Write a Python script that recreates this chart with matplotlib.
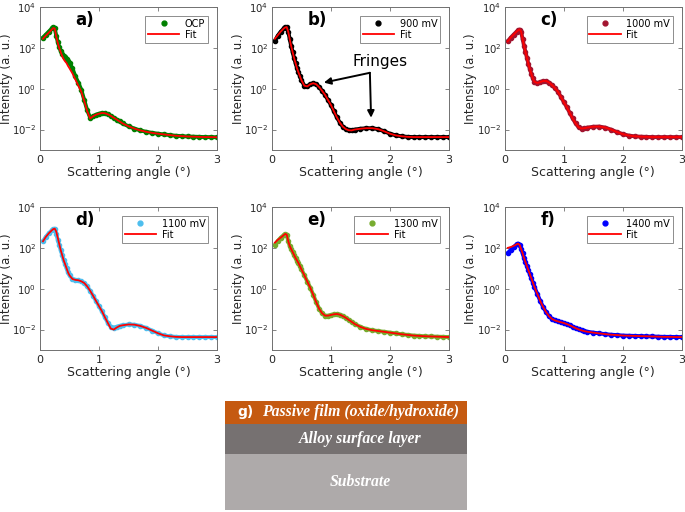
#-----------------------------------------------------------------------
# XRR curves at several potentials (a-f) + layer sketch (g)
#-----------------------------------------------------------------------
import matplotlib
matplotlib.use('Agg')
import matplotlib.pyplot as plt
from matplotlib.lines import Line2D
import numpy as np

# scattering angle (deg), shared by every curve
angle = [0.05, 0.1, 0.15, 0.2, 0.225, 0.25, 0.275, 0.3, 0.325, 0.35,
         0.375, 0.4, 0.425, 0.45, 0.475, 0.5, 0.55, 0.6, 0.65, 0.7,
         0.75, 0.8, 0.85, 0.9, 0.95, 1.0, 1.05, 1.1, 1.15, 1.2,
         1.25, 1.3, 1.35, 1.4, 1.5, 1.6, 1.7, 1.8, 1.9, 2.0,
         2.1, 2.2, 2.3, 2.4, 2.5, 2.6, 2.7, 2.8, 2.9, 3.0]

# measured intensities (a. u.)
ocp_data = [3.2e2, 4.5e2, 6.3e2, 8.9e2, 1.05e3, 8.9e2, 4.0e2, 2.0e2, 1.1e2, 71,
            50, 40, 35, 28, 22, 18, 10, 4.0, 2.0, 0.89,
            0.28, 0.089, 0.038, 0.045, 0.054, 0.060, 0.065, 0.063, 0.056, 0.047,
            0.038, 0.031, 0.025, 0.020, 0.0145, 0.0112, 0.0091, 0.0078, 0.0069, 0.0063,
            0.0058, 0.0054, 0.0050, 0.0048, 0.0046, 0.0045, 0.0044, 0.0043, 0.0043, 0.0042]
ocp_fit = [2.8e2, 4.0e2, 5.6e2, 7.9e2, 9.3e2, 8.9e2, 3.5e2, 1.8e2, 1.0e2, 63,
           40, 28, 22, 18, 13, 10, 5.6, 2.8, 1.4, 0.71,
           0.25, 0.079, 0.035, 0.045, 0.054, 0.060, 0.065, 0.063, 0.056, 0.047,
           0.038, 0.031, 0.025, 0.020, 0.0145, 0.0112, 0.0091, 0.0078, 0.0069, 0.0063,
           0.0058, 0.0054, 0.0050, 0.0048, 0.0046, 0.0045, 0.0044, 0.0043, 0.0043, 0.0042]

mv900_data = [2.2e2, 4.0e2, 6.3e2, 8.9e2, 1.0e3, 1.05e3, 6.3e2, 2.8e2, 1.26e2, 63,
              32, 18, 10, 6.3, 4.0, 2.6, 1.4, 1.3, 1.66, 1.86,
              1.66, 1.2, 0.79, 0.50, 0.28, 0.16, 0.079, 0.040, 0.022, 0.014,
              0.0107, 0.0093, 0.0091, 0.0100, 0.011, 0.0117, 0.0117, 0.0105, 0.0083, 0.0063,
              0.0052, 0.0047, 0.0044, 0.0043, 0.0043, 0.0043, 0.0043, 0.0043, 0.0043, 0.0043]
mv900_fit = [2.8e2, 4.2e2, 6.3e2, 8.9e2, 1.0e3, 1.05e3, 6.3e2, 2.8e2, 1.26e2, 63,
             32, 18, 10, 6.3, 4.0, 2.6, 1.4, 1.3, 1.66, 1.86,
             1.66, 1.2, 0.79, 0.50, 0.28, 0.16, 0.079, 0.040, 0.022, 0.014,
             0.0107, 0.0093, 0.0091, 0.0100, 0.011, 0.0117, 0.0117, 0.0105, 0.0083, 0.0063,
             0.0052, 0.0047, 0.0044, 0.0043, 0.0043, 0.0043, 0.0043, 0.0043, 0.0043, 0.0043]

mv1000_data = [2.1e2, 3.2e2, 4.5e2, 6.3e2, 7.1e2, 7.9e2, 6.3e2, 2.8e2, 1.26e2, 63,
               32, 16, 8.9, 5.2, 3.2, 2.2, 1.9, 2.1, 2.4, 2.4,
               2.0, 1.5, 1.07, 0.71, 0.40, 0.22, 0.126, 0.066, 0.035, 0.020,
               0.013, 0.0112, 0.0117, 0.0126, 0.0138, 0.0141, 0.0126, 0.0100, 0.0076, 0.0060,
               0.0051, 0.0047, 0.0045, 0.0044, 0.0043, 0.0043, 0.0043, 0.0043, 0.0043, 0.0043]
mv1000_fit = list(mv1000_data)

mv1100_data = [2.1e2, 3.5e2, 5.2e2, 7.2e2, 8.3e2, 8.7e2, 5.0e2, 2.5e2, 1.4e2, 79,
               45, 25, 16, 10, 6.3, 4.5, 3.0, 2.7, 2.6, 2.3,
               1.9, 1.3, 0.79, 0.45, 0.25, 0.14, 0.079, 0.040, 0.021, 0.014,
               0.0126, 0.0138, 0.0151, 0.0162, 0.0178, 0.0174, 0.0151, 0.0120, 0.0089, 0.0066,
               0.0052, 0.0047, 0.0044, 0.0043, 0.0043, 0.0043, 0.0043, 0.0043, 0.0043, 0.0043]
mv1100_fit = [2.1e2, 3.5e2, 5.2e2, 7.2e2, 8.3e2, 8.7e2, 6.3e2, 3.2e2, 1.6e2, 79,
              45, 25, 16, 10, 6.3, 4.5, 3.0, 2.7, 2.6, 2.3,
              1.9, 1.3, 0.79, 0.45, 0.25, 0.14, 0.079, 0.040, 0.021, 0.0112,
              0.0100, 0.0126, 0.0151, 0.0162, 0.0178, 0.0174, 0.0151, 0.0120, 0.0089, 0.0066,
              0.0052, 0.0047, 0.0044, 0.0043, 0.0043, 0.0043, 0.0043, 0.0043, 0.0043, 0.0043]

mv1300_data = [1.4e2, 2.2e2, 3.2e2, 4.2e2, 4.8e2, 4.5e2, 2.2e2, 1.26e2, 89, 63,
               45, 32, 24, 18, 12.6, 8.9, 4.5, 2.2, 1.12, 0.50,
               0.22, 0.105, 0.063, 0.048, 0.048, 0.052, 0.056, 0.058, 0.054, 0.046,
               0.038, 0.030, 0.024, 0.019, 0.0135, 0.0107, 0.0093, 0.0085, 0.0078, 0.0071,
               0.0065, 0.0059, 0.0055, 0.0051, 0.0049, 0.0047, 0.0046, 0.0045, 0.0044, 0.0043]
mv1300_fit = [1.8e2, 2.5e2, 3.2e2, 4.2e2, 4.8e2, 4.5e2, 2.2e2, 1.26e2, 89, 63,
              45, 32, 24, 18, 12.6, 8.9, 4.5, 2.2, 1.12, 0.50,
              0.22, 0.105, 0.063, 0.048, 0.048, 0.052, 0.056, 0.058, 0.054, 0.046,
              0.038, 0.030, 0.024, 0.019, 0.0135, 0.0107, 0.0093, 0.0085, 0.0078, 0.0071,
              0.0065, 0.0059, 0.0055, 0.0051, 0.0049, 0.0047, 0.0046, 0.0045, 0.0044, 0.0043]

mv1400_data = [56, 79, 1.1e2, 1.5e2, 1.6e2, 1.4e2, 89, 56, 32, 20,
               12.6, 7.9, 5.0, 3.2, 2.0, 1.26, 0.56, 0.25, 0.126, 0.071,
               0.045, 0.033, 0.028, 0.025, 0.023, 0.021, 0.0186, 0.0162, 0.0138, 0.0117,
               0.0102, 0.0091, 0.0083, 0.0078, 0.0071, 0.0065, 0.0060, 0.0056, 0.0054, 0.0051,
               0.0050, 0.0049, 0.0048, 0.0047, 0.0046, 0.0045, 0.0044, 0.0044, 0.0043, 0.0043]
mv1400_fit = [1.0e2, 1.1e2, 1.26e2, 1.5e2, 1.6e2, 1.4e2, 89, 56, 32, 20,
              12.6, 7.9, 5.0, 3.2, 2.0, 1.26, 0.56, 0.25, 0.126, 0.071,
              0.045, 0.033, 0.028, 0.025, 0.023, 0.021, 0.0186, 0.0162, 0.0138, 0.0117,
              0.0102, 0.0091, 0.0083, 0.0078, 0.0071, 0.0065, 0.0060, 0.0056, 0.0054, 0.0051,
              0.0050, 0.0049, 0.0048, 0.0047, 0.0046, 0.0045, 0.0044, 0.0044, 0.0043, 0.0043]

panel_tags   = ['a)', 'b)', 'c)', 'd)', 'e)', 'f)']
panel_names  = ['OCP', '900 mV', '1000 mV', '1100 mV', '1300 mV', '1400 mV']
panel_data   = [ocp_data, mv900_data, mv1000_data, mv1100_data, mv1300_data, mv1400_data]
panel_fit    = [ocp_fit, mv900_fit, mv1000_fit, mv1100_fit, mv1300_fit, mv1400_fit]
panel_colors = ['#008000', '#000000', '#A2142F', '#4DBEEE', '#77AC30', '#0000FF']

layer_names  = ['Passive film (oxide/hydroxide)', 'Alloy surface layer', 'Substrate']
layer_colors = ['#C55A11', '#767171', '#AEAAAA']

TXT = '#262626'
EDGE = '#707070'

#------------------------------------------------------------------------------
def style_axes(ax):
    ax.set_yscale('log')
    ax.set_xlim(0, 3)
    ax.set_ylim(1e-3, 1e4)
    ax.set_xticks([0, 1, 2, 3])
    ax.set_yticks([1e-2, 1e0, 1e2, 1e4])
    ax.minorticks_off()
    ax.tick_params(direction='in', top=True, right=True, length=3,
                   width=0.6, colors=EDGE, labelcolor=TXT, labelsize=8)
    ax.tick_params(axis='y', labelsize=7.3, pad=2.5)
    for s in ax.spines.values():
        s.set_color(EDGE)
        s.set_linewidth(0.7)
    ax.set_xlabel('Scattering angle (°)', fontsize=9, color=TXT, labelpad=1)
    ax.set_ylabel('Intensity (a. u.)', fontsize=8.5, color=TXT)
    ax.yaxis.set_label_coords(-0.155, 0.5)
# end style_axes
#------------------------------------------------------------------------------

fig = plt.figure(figsize=(6.85, 5.12), dpi=100)

lefts   = [0.0584, 0.397, 0.737]
bottoms = [0.707, 0.3164]
axw, axh = 0.2584, 0.2793

axes = []
for i in range(6):
    ax = fig.add_axes([lefts[i % 3], bottoms[i // 3], axw, axh])
    axes.append(ax)
    c = panel_colors[i]
    ax.plot(angle, panel_data[i], color=c, lw=2.8, zorder=2)
    ax.plot(angle, panel_data[i], ls='none', marker='o', ms=3.0,
            mfc=c, mec=c, zorder=2)
    ax.plot(angle, panel_fit[i], color='#FF0000', lw=1.3, zorder=3)
    style_axes(ax)
    ax.text(0.2, 0.91, panel_tags[i], transform=ax.transAxes,
            fontsize=12, fontweight='bold', va='center', color='black')
    handles = [Line2D([], [], ls='none', marker='o', ms=3.5, mfc=c, mec=c),
               Line2D([], [], color='#FF0000', lw=1.3)]
    leg = ax.legend(handles, [panel_names[i], 'Fit'], loc='upper right',
                    fontsize=7, frameon=True, fancybox=False,
                    borderaxespad=0.9, handlelength=3.2, handletextpad=0.6,
                    borderpad=0.3, labelspacing=0.1)
    leg.get_frame().set_edgecolor(EDGE)
    leg.get_frame().set_linewidth(0.7)

# arrows pointing at the fringes in b)
axb = axes[1]
axb.text(1.83, 10**1.35, 'Fringes', fontsize=11, ha='center', va='center')
for tip in [(0.88, 10**0.3), (1.68, 10**-1.42)]:
    axb.annotate('', xy=tip, xytext=(1.66, 10**0.78),
                 arrowprops=dict(arrowstyle='-|>', color='black', lw=1.4,
                                 mutation_scale=10, shrinkA=0, shrinkB=0))

#------------------------------------------------------------------------------
# g) layer sketch
axg = fig.add_axes([0.3285, 0.004, 0.3533, 0.2129])
axg.set_xlim(0, 1)
axg.set_ylim(0, 1)
axg.axis('off')
edges = [(0.789, 1.0), (0.514, 0.789), (0.0, 0.514)]
for name, col, (y0, y1) in zip(layer_names, layer_colors, edges):
    axg.axhspan(y0, y1, color=col, lw=0)
    axg.text(0.56, (y0 + y1) / 2, name, ha='center', va='center',
             color='white', fontsize=11.3, fontweight='bold', style='italic',
             family='Liberation Serif')
axg.text(0.05, 0.895, 'g)', ha='left', va='center', color='white',
         fontsize=10, fontweight='bold')

fig.savefig('out.png', dpi=100)
